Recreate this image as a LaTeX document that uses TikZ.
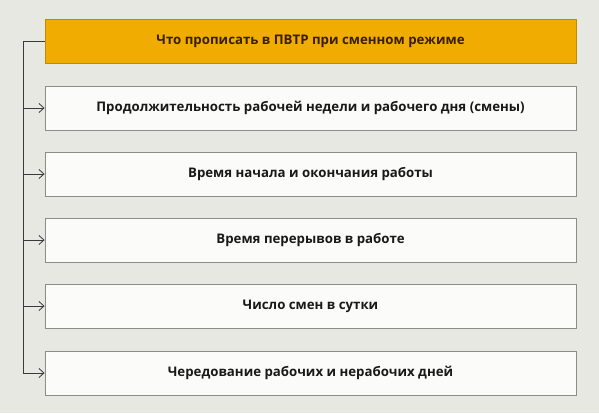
\documentclass[tikz,border=0pt]{standalone}
\usepackage{fontspec}
\setmainfont{Open Sans}
\usetikzlibrary{arrows.meta}
\definecolor{bg}{HTML}{E8E8E3}
\definecolor{head}{HTML}{F0AC00}
\definecolor{headtext}{HTML}{3A1E05}
\definecolor{boxfill}{HTML}{FBFBF9}
\definecolor{boxline}{HTML}{8C8C88}
\definecolor{conn}{HTML}{3A3A3A}
\tikzset{
  itembox/.style={draw=boxline, line width=0.9pt, fill=boxfill, minimum width=531pt, minimum height=44pt,
    inner sep=0pt, font=\bfseries\fontsize{13.25}{15}\selectfont, text=black!90},
  headbox/.style={itembox, fill=head, draw=head!80!black, text=headtext},
  conline/.style={draw=conn, line width=0.8pt},
  conarrow/.style={conline, -{Straight Barb[length=5pt,width=9pt,line width=0.8pt]}}
}
\begin{document}
\begin{tikzpicture}[x=1pt,y=-1pt]
\fill[bg] (0,0) rectangle (599,413);
\useasboundingbox (0,0) rectangle (599,413);
\node[headbox] (h) at (310.5,41) {Что прописать в ПВТР при сменном режиме};
\node[itembox] (b1) at (310.5,108) {Продолжительность рабочей недели и рабочего дня (смены)};
\node[itembox] (b2) at (310.5,174) {Время начала и окончания работы};
\node[itembox] (b3) at (310.5,240) {Время перерывов в работе};
\node[itembox] (b4) at (310.5,306) {Число смен в сутки};
\node[itembox] (b5) at (310.5,373) {Чередование рабочих и нерабочих дней};
\coordinate (top) at (23,41);
\coordinate (bot) at (23,373);
\draw[conline] (h.west) -- (top) -- (bot);
\foreach \n in {b1,b2,b3,b4,b5}{
  \draw[conarrow] (top |- \n.west) -- (\n.west);
}
\end{tikzpicture}
\end{document}
